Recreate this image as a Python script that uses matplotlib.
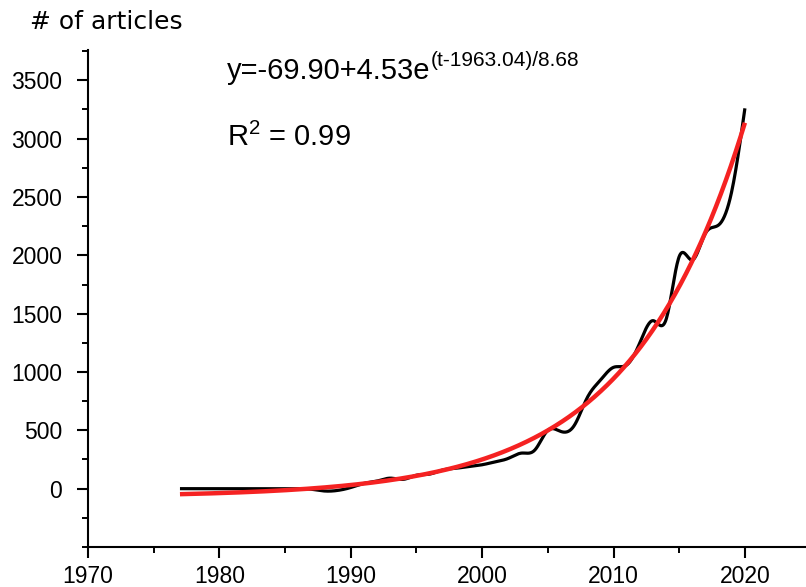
import numpy as np
import matplotlib
matplotlib.use("Agg")
import matplotlib.pyplot as plt
from matplotlib.ticker import MultipleLocator, FixedLocator

plt.rcParams['font.family'] = ['Liberation Sans', 'DejaVu Sans']
plt.rcParams['mathtext.fontset'] = 'custom'
plt.rcParams['mathtext.rm'] = 'Liberation Sans'

years = list(range(1977, 2021))
articles = [0, 0, 0, 0, 0, 0, 0, 0, 0, 0,
            -5, -20, -15, 10, 45, 65, 90, 80, 115, 125,
            160, 175, 190, 205, 230, 260, 305, 330, 500, 490,
            540, 780, 930, 1040, 1060, 1250, 1440, 1450, 1990, 1960,
            2190, 2260, 2550, 3260]

# fit parameters shown on the chart
fit_a = -69.90
fit_b = 4.53
fit_t0 = 1963.04
fit_tau = 8.68


def natural_spline(x, y, xs):
    x = np.asarray(x, float); y = np.asarray(y, float)
    n = len(x)
    h = np.diff(x)
    A = np.zeros((n, n)); r = np.zeros(n)
    A[0, 0] = 1; A[-1, -1] = 1
    for i in range(1, n - 1):
        A[i, i - 1] = h[i - 1]
        A[i, i] = 2 * (h[i - 1] + h[i])
        A[i, i + 1] = h[i]
        r[i] = 3 * ((y[i + 1] - y[i]) / h[i] - (y[i] - y[i - 1]) / h[i - 1])
    c = np.linalg.solve(A, r)
    b = (y[1:] - y[:-1]) / h - h * (2 * c[:-1] + c[1:]) / 3
    d = (c[1:] - c[:-1]) / (3 * h)
    idx = np.clip(np.searchsorted(x, xs) - 1, 0, n - 2)
    dx = xs - x[idx]
    return y[idx] + b[idx] * dx + c[idx] * dx ** 2 + d[idx] * dx ** 3


fig = plt.figure(figsize=(8.06, 5.87), dpi=100)
ax = fig.add_axes([88 / 806, 40 / 587, 718 / 806, 497 / 587])

ts = np.linspace(years[0], years[-1], 800)
ax.plot(ts, natural_spline(years, articles, ts), color='black', lw=2.3, zorder=2,
        solid_capstyle='butt')
ax.plot(ts, fit_a + fit_b * np.exp((ts - fit_t0) / fit_tau), color='#f52222', lw=3.2, zorder=3,
        solid_capstyle='butt')

ax.set_xlim(1970, 2024.65)
ax.set_ylim(-500, 3760)
ax.xaxis.set_major_locator(MultipleLocator(10))
ax.xaxis.set_minor_locator(MultipleLocator(5))
ax.yaxis.set_major_locator(FixedLocator([0, 500, 1000, 1500, 2000, 2500, 3000, 3500]))
ax.yaxis.set_minor_locator(FixedLocator(list(range(-500, 3751, 250))))
for s in ['top', 'right']:
    ax.spines[s].set_visible(False)
for s in ['left', 'bottom']:
    ax.spines[s].set_linewidth(1.5)
ax.tick_params(which='major', direction='out', length=8, width=1.5, labelsize=16.5)
ax.tick_params(axis='y', which='major', pad=10.5)
ax.tick_params(axis='x', which='major', pad=5)
ax.tick_params(which='minor', direction='out', length=4.5, width=1.4)

fig.text(30 / 806, 1 - 29 / 587, '# of articles', fontsize=18, va='baseline', ha='left',
         family=['DejaVu Sans'])
t1 = fig.text(227 / 806, 1 - 79 / 587, 'y=-69.90+4.53e', fontsize=21,
              va='baseline', ha='left')
ax.annotate('(t-1963.04)/8.68', xy=(1, 587 - 66), xycoords=(t1, 'figure pixels'),
            xytext=(0.5, 0), textcoords='offset points', fontsize=15,
            va='baseline', ha='left', annotation_clip=False)
fig.text(227 / 806, 1 - 146 / 587, r'R$^{\mathregular{2}}$ = 0.99',
         fontsize=21, va='baseline', ha='left')

fig.savefig('out.png', dpi=100)
